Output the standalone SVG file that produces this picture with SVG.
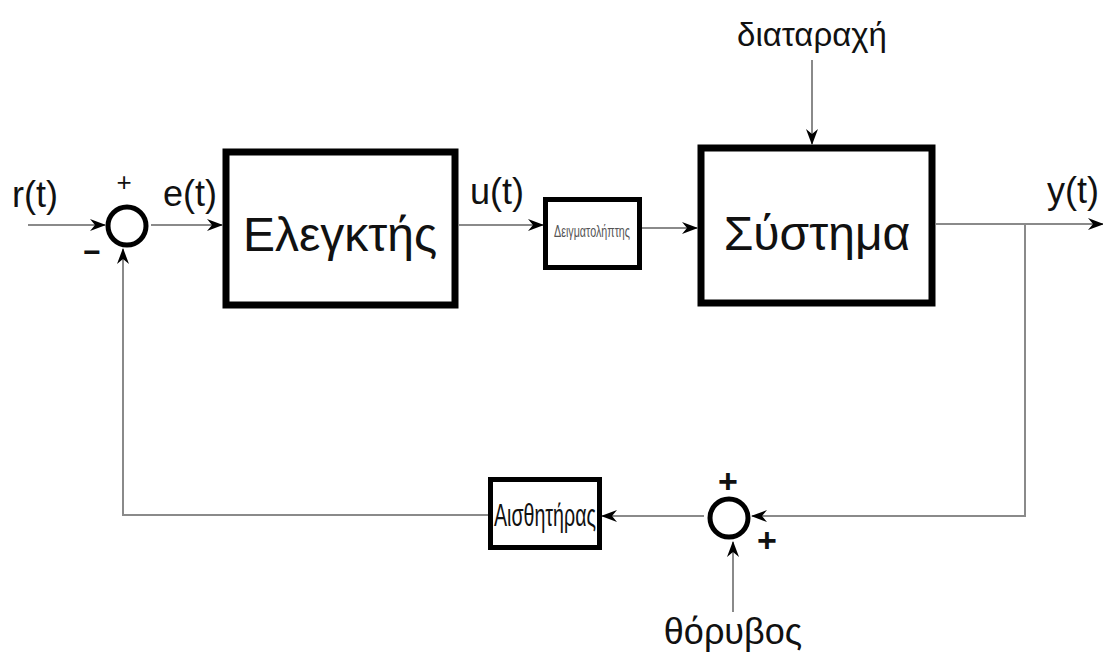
<svg xmlns="http://www.w3.org/2000/svg" width="1103" height="657" viewBox="0 0 1103 657">
<style>
.blk{fill:#fff;stroke:#000;stroke-width:7}
.sm{fill:#fff;stroke:#000;stroke-width:5}
.sum{fill:#fff;stroke:#000;stroke-width:5}
.ln{fill:none;stroke:#8a8a8a;stroke-width:2}
.t{font-family:"Liberation Sans",Arial,sans-serif;fill:#111}
</style>
<defs>
<marker id="ah" markerUnits="userSpaceOnUse" markerWidth="16" markerHeight="12" refX="15" refY="6" orient="auto">
<path d="M0,0 L16,6 L0,12 L5,6 z" fill="#000"/>
</marker>
</defs>
<g id="connectors">
<line class="ln" x1="28" y1="225" x2="105" y2="225" marker-end="url(#ah)"/>
<line class="ln" x1="151" y1="225" x2="222" y2="225" marker-end="url(#ah)"/>
<line class="ln" x1="459" y1="225" x2="543" y2="225" marker-end="url(#ah)"/>
<line class="ln" x1="642" y1="228" x2="697" y2="228" marker-end="url(#ah)"/>
<line class="ln" x1="812" y1="60" x2="812" y2="144" marker-end="url(#ah)"/>
<line class="ln" x1="936" y1="224" x2="1103" y2="224" marker-end="url(#ah)"/>
<polyline class="ln" points="1025,224 1025,516 752,516" marker-end="url(#ah)"/>
<line class="ln" x1="704" y1="516" x2="602" y2="516" marker-end="url(#ah)"/>
<polyline class="ln" points="488,515 123,515 123,249" marker-end="url(#ah)"/>
<line class="ln" x1="733" y1="612" x2="733" y2="542" marker-end="url(#ah)"/>
</g>
<g id="sum1">
<circle class="sum" cx="127" cy="226" r="19"/>
<text class="t" x="124" y="191" font-size="26" text-anchor="middle">+</text>
<text class="t" x="92" y="262" font-size="30" font-weight="bold" text-anchor="middle">−</text>
</g>
<g id="controller">
<rect class="blk" x="226" y="152" width="229" height="153"/>
<text class="t" x="340" y="251" font-size="48" text-anchor="middle">Ελεγκτής</text>
</g>
<g id="sampler">
<rect class="sm" x="545.5" y="199.5" width="94" height="68"/>
<text class="t" x="592" y="237" font-size="17" text-anchor="middle" textLength="76" lengthAdjust="spacingAndGlyphs" style="fill:#555">Δειγματολήπτης</text>
</g>
<g id="system">
<rect class="blk" x="701" y="148" width="231" height="155"/>
<text class="t" x="817" y="250" font-size="48" text-anchor="middle">Σύστημα</text>
</g>
<g id="sum2">
<circle class="sum" cx="729" cy="518" r="19"/>
<text class="t" x="728" y="493" font-size="34" font-weight="bold" text-anchor="middle">+</text>
<text class="t" x="767" y="552" font-size="34" font-weight="bold" text-anchor="middle">+</text>
</g>
<g id="sensor">
<rect class="sm" x="490.5" y="479.5" width="109" height="68"/>
<text class="t" x="545" y="526" font-size="31" text-anchor="middle" textLength="102" lengthAdjust="spacingAndGlyphs">Αισθητήρας</text>
</g>
<g id="labels">
<text class="t" x="12" y="207" font-size="36">r(t)</text>
<text class="t" x="163" y="206" font-size="36">e(t)</text>
<text class="t" x="470" y="204" font-size="36">u(t)</text>
<text class="t" x="1047" y="203" font-size="36">y(t)</text>
<text class="t" x="812" y="46" font-size="33" text-anchor="middle">διαταραχή</text>
<text class="t" x="733" y="644" font-size="36" text-anchor="middle">θόρυβος</text>
</g>
</svg>
